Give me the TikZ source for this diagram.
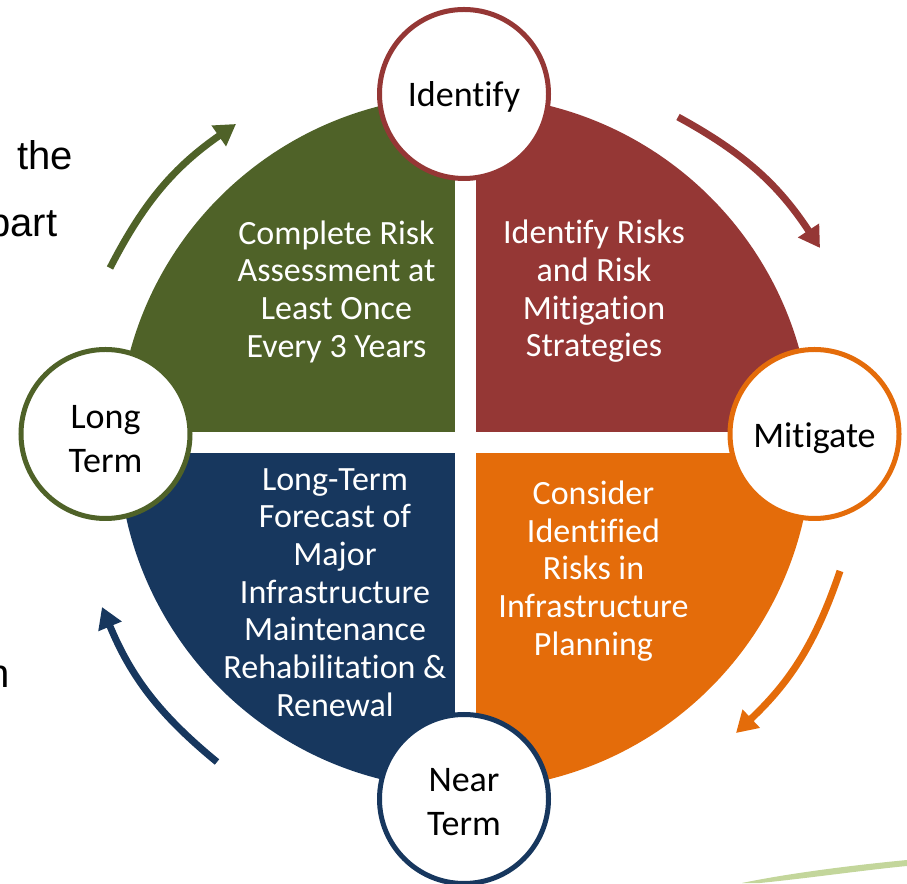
\documentclass[tikz,border=0pt]{standalone}
\usepackage{fontspec}
\setmainfont{Carlito}[Ligatures=NoCommon]
\newfontfamily\arialfont{Liberation Sans}
\usetikzlibrary{arrows.meta}
\definecolor{olv}{HTML}{4F6228}
\definecolor{brk}{HTML}{953735}
\definecolor{nvy}{HTML}{17375E}
\definecolor{org}{HTML}{E46C0A}
\definecolor{swoosh}{HTML}{C3D69B}
\begin{document}
\begin{tikzpicture}[x=1pt,y=1pt,
  quadtext/.style={text=white, align=center, font=\fontsize{34}{37.7}\selectfont, inner sep=0pt},
  stage/.style={circle, fill=white, line width=5pt, minimum size=169pt, inner sep=0pt},
  stagelabel/.style={align=center, inner sep=0pt, font=\fontsize{36}{44.5}\selectfont},
  cyc/.style={line width=7pt, -{Triangle[length=21pt,width=24pt]}},
  cut/.style={font=\arialfont\fontsize{40}{48}\selectfont, inner sep=0pt, anchor=base east}]
\useasboundingbox (0,0) rectangle (907,883);
\clip (0,0) rectangle (907,883);
\coordinate (c) at (465,440.5);
% pie quadrants
\fill[olv] (c) -- ++(180:347) arc[start angle=180,end angle=90,radius=347] -- cycle;
\fill[brk] (c) -- ++(90:347) arc[start angle=90,end angle=0,radius=347] -- cycle;
\fill[org] (c) -- ++(0:347) arc[start angle=0,end angle=-90,radius=347] -- cycle;
\fill[nvy] (c) -- ++(-90:347) arc[start angle=-90,end angle=-180,radius=347] -- cycle;
% white cross
\fill[white] (454.5,80) rectangle (475.5,800);
\fill[white] (100,430) rectangle (830,451);
% quadrant texts
\node[quadtext] (qg) at (336.5,591.5) {Complete Risk\\Assessment at\\Least Once\\Every 3 Years};
\node[quadtext] (qr) at (594,591.5) {Identify Risks\\and Risk\\Mitigation\\Strategies};
\node[quadtext] (qn) at (335,290.5) {Long-Term\\Forecast of\\Major\\Infrastructure\\Maintenance\\Rehabilitation \&\\Renewal};
\node[quadtext] (qo) at (593.5,312) {Consider\\Identified\\Risks in\\Infrastructure\\Planning};
% stage circles
\node[stage, draw=brk] (id) at (464,789) {};
\node[stage, draw=org] (mi) at (814.5,449) {};
\node[stage, draw=olv] (lt) at (105.5,449) {};
\node[stage, draw=nvy] (nt) at (464,84) {};
\node[stagelabel] (idl) at ([yshift=-3pt]id.center) {Identify};
\node[stagelabel] (mil) at ([yshift=-4pt]mi.center) {Mitigate};
\node[stagelabel] (ltl) at ([yshift=-5pt]lt.center) {Long\\Term};
\node[stagelabel] (ntl) at ([yshift=-3pt]nt.center) {Near\\Term};
% cycle arrows
\coordinate (ga) at (110,615);  \coordinate (gb) at (236,759);
\coordinate (ra) at (678,766);  \coordinate (rb) at (820,635);
\coordinate (oa) at (840,312);  \coordinate (ob) at (736,150);
\coordinate (na) at (217,121);  \coordinate (nb) at (102,276);
\draw[cyc, olv] (ga) to[bend left=14] (gb);
\draw[cyc, brk] (ra) to[bend left=14] (rb);
\draw[cyc, org] (oa) to[bend left=14] (ob);
\draw[cyc, nvy] (na) to[bend left=14] (nb);
% cut-off slide text
\node[cut] (t1) at (73,713) {the};
\node[cut] (t2) at (57.5,646) {part};
\node[cut] (t3) at (9.7,195) {n};
% swoosh
\fill[swoosh] (742,0) .. controls (795,11) and (865,19) .. (907,23) -- (907,17) .. controls (865,13) and (810,5) .. (760,0) -- cycle;
\end{tikzpicture}
\end{document}
